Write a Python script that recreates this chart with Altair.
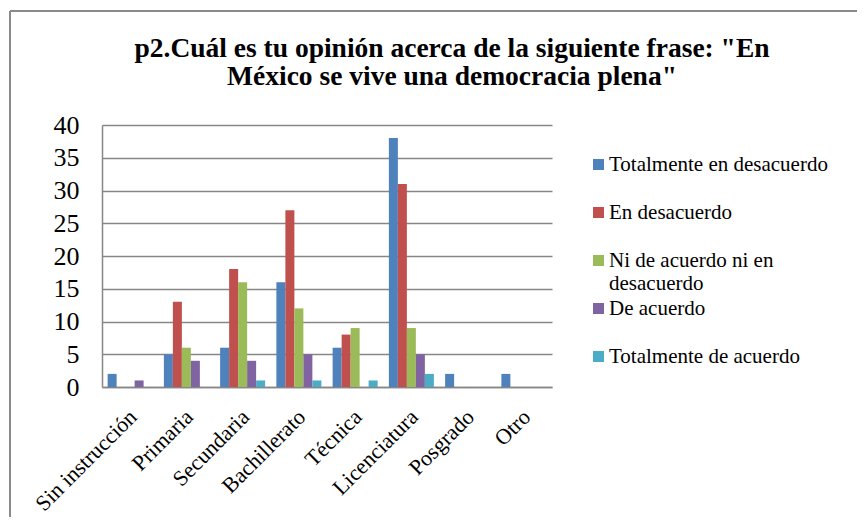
import altair as alt
import pandas as pd

categorias = ["Sin instrucción", "Primaria", "Secundaria", "Bachillerato",
              "Técnica", "Licenciatura", "Posgrado", "Otro"]
series = ["Totalmente en desacuerdo", "En desacuerdo",
          "Ni de acuerdo ni en desacuerdo", "De acuerdo", "Totalmente de acuerdo"]
totalmente_desacuerdo = [2, 5, 6, 16, 6, 38, 2, 2]
en_desacuerdo = [0, 13, 18, 27, 8, 31, 0, 0]
ni_ni = [0, 6, 16, 12, 9, 9, 0, 0]
de_acuerdo = [1, 4, 4, 5, 0, 5, 0, 0]
totalmente_acuerdo = [0, 0, 1, 1, 1, 2, 0, 0]
colores = ["#4F81BD", "#C0504D", "#9BBB59", "#8064A2", "#4BACC6"]
titulo = ['p2.Cuál es tu opinión acerca de la siguiente frase: "En',
          'México se vive una democracia plena"']

valores = [totalmente_desacuerdo, en_desacuerdo, ni_ni, de_acuerdo, totalmente_acuerdo]
rows = []
for s, vals in zip(series, valores):
    for c, v in zip(categorias, vals):
        rows.append({"categoria": c, "serie": s, "valor": v})
df = pd.DataFrame(rows)

W, H = 450, 262
PL, PT = 94, 117
PR = 849 - PL - W
PB = 509 - PT - H

serif = "'Liberation Serif', 'Times New Roman', serif"
gray = "#868686"

bars = alt.Chart(df).mark_bar().encode(
    x=alt.X("categoria:N", sort=categorias, title=None,
            scale=alt.Scale(paddingInner=0.2, paddingOuter=0.1),
            axis=alt.Axis(labelAngle=-45, labelFont=serif, labelFontSize=22,
                          labelColor="black", ticks=False, domainColor=gray,
                          domainWidth=1.5, labelAlign="right", labelBaseline="middle",
                          labelPadding=26, labelOffset=3)),
    xOffset=alt.XOffset("serie:N", sort=series, scale=alt.Scale(paddingInner=0)),
    y=alt.Y("valor:Q", title=None,
            scale=alt.Scale(domain=[0, 40], nice=False),
            axis=alt.Axis(values=[0, 5, 10, 15, 20, 25, 30, 35, 40], labelFont=serif,
                          labelFontSize=26, labelColor="black", ticks=False,
                          domainColor=gray, domainWidth=1.5, gridColor=gray,
                          gridWidth=1.5, labelPadding=23)),
    color=alt.Color("serie:N", sort=series, title=None,
                    scale=alt.Scale(domain=series, range=colores),
                    legend=alt.Legend(orient="none", legendX=486, legendY=29,
                                      symbolType="square", symbolSize=121,
                                      symbolStrokeWidth=0, labelFont=serif,
                                      labelFontSize=21, labelColor="black",
                                      labelLimit=400, labelOffset=0,
                                      gridAlign="all", rowPadding=3, padding=0,
                                      labelExpr="datum.label == 'Ni de acuerdo ni en desacuerdo' ? ['Ni de acuerdo ni en', 'desacuerdo'] : datum.label")),
)

borde = alt.Chart(alt.Data(values=[{}]))
borde_izq = borde.mark_rule(color="#8a8a8a", strokeWidth=2).encode(
    x=alt.value(-92), y=alt.value(-114), y2=alt.value(H + PB))
borde_sup = borde.mark_rule(color="#8a8a8a", strokeWidth=2).encode(
    x=alt.value(-92), x2=alt.value(W + PR), y=alt.value(-114))

chart = alt.layer(bars, borde_izq, borde_sup).properties(
    width=W, height=H,
    autosize=alt.AutoSizeParams(type="none"),
    padding={"left": PL, "top": PT, "right": PR, "bottom": PB},
    title=alt.TitleParams(text=titulo, font=serif, fontSize=27.5, fontWeight="bold",
                          color="black", anchor="middle", dx=125, offset=-80,
                          lineHeight=28),
).configure_view(stroke="transparent")

chart.save("out.html", embed_options={"renderer": "svg", "actions": False})
